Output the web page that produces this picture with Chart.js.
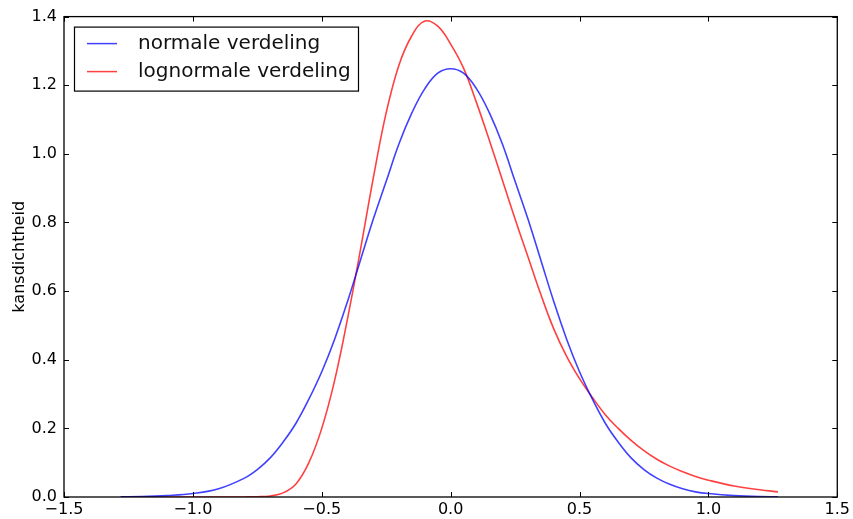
<!DOCTYPE html>
<html>
<head>
<meta charset="utf-8">
<script src="https://cdn.jsdelivr.net/npm/chart.js@4.4.1/dist/chart.umd.min.js"></script>
<style>
    html, body { margin: 0; padding: 0; background: #fff; }
    #wrap { width: 853px; height: 519px; position: relative; }
</style>
</head>
<body>
<div id="wrap"><canvas id="chart"></canvas></div>
<script>
// x positions
const xValues = [
    -1.28, -1.2, -1.1, -1.0, -0.9, -0.8, -0.75, -0.7, -0.65, -0.6, -0.55, -0.5, -0.45, -0.4, -0.35,
    -0.3, -0.25, -0.2, -0.15, -0.1, -0.05, 0, 0.05, 0.1, 0.15, 0.2, 0.25, 0.3, 0.35, 0.4,
    0.45, 0.5, 0.55, 0.6, 0.65, 0.7, 0.75, 0.8, 0.85, 0.9, 0.95, 1.0, 1.1, 1.2, 1.27,
];
// blue curve
const normalValues = [
    0.0004, 0.001, 0.004, 0.010, 0.024, 0.055, 0.08, 0.114, 0.16, 0.215, 0.285, 0.365, 0.46, 0.57, 0.69,
    0.81, 0.92, 1.03, 1.12, 1.19, 1.235, 1.248, 1.235, 1.19, 1.12, 1.03, 0.92, 0.81, 0.69, 0.57,
    0.46, 0.365, 0.285, 0.215, 0.16, 0.114, 0.08, 0.055, 0.037, 0.024, 0.015, 0.010, 0.004, 0.001, 0.0005,
];
// red curve
const lognormalValues = [
    0, 0, 0, 0, 0, 0.0002, 0.0008, 0.003, 0.012, 0.038, 0.10, 0.20, 0.34, 0.52, 0.72,
    0.93, 1.12, 1.26, 1.345, 1.387, 1.372, 1.32, 1.25, 1.15, 1.04, 0.925, 0.81, 0.70, 0.59, 0.49,
    0.41, 0.345, 0.29, 0.24, 0.20, 0.165, 0.135, 0.11, 0.09, 0.074, 0.06, 0.049, 0.032, 0.021, 0.015,
];
const seriesLabels = ['normale verdeling', 'lognormale verdeling'];
const xTicks = [-1.5, -1.0, -0.5, 0.0, 0.5, 1.0, 1.5];
const yTicks = [0.0, 0.2, 0.4, 0.6, 0.8, 1.0, 1.2, 1.4];

const FONT = 'DejaVu Sans';

function toPoints(ys) {
    return xValues.map((x, i) => ({x: x, y: ys[i]}));
}

function fmt(v) {
    return Number(v).toFixed(1).replace('-', '\u2212');
}

// matplotlib-like frame: box, inward ticks on all sides, legend in the corner
const framePlugin = {
    id: 'frame',
    afterDraw(chart) {
        const ctx = chart.ctx;
        const a = chart.chartArea;
        const xs = chart.scales.x;
        const ys = chart.scales.y;
        ctx.save();
        ctx.strokeStyle = '#000';
        ctx.lineWidth = 1;
        xTicks.forEach(v => {
            const px = Math.round(xs.getPixelForValue(v)) + 0.5;
            ctx.beginPath();
            ctx.moveTo(px, a.bottom); ctx.lineTo(px, a.bottom - 5);
            ctx.moveTo(px, a.top); ctx.lineTo(px, a.top + 5);
            ctx.stroke();
        });
        yTicks.forEach(v => {
            const py = Math.round(ys.getPixelForValue(v)) + 0.5;
            ctx.beginPath();
            ctx.moveTo(a.left, py); ctx.lineTo(a.left + 5, py);
            ctx.moveTo(a.right, py); ctx.lineTo(a.right - 5, py);
            ctx.stroke();
        });
        ctx.lineWidth = 1.3;
        ctx.strokeRect(a.left, a.top, a.right - a.left, a.bottom - a.top);

        // legend
        const lx = a.left + 10, ly = a.top + 10;
        ctx.fillStyle = '#fff';
        ctx.fillRect(lx, ly, 284, 64);
        ctx.lineWidth = 1.2;
        ctx.strokeStyle = '#000';
        ctx.strokeRect(lx + 0.5, ly + 0.5, 284, 64);
        ctx.font = '20px "' + FONT + '"';
        ctx.textBaseline = 'middle';
        chart.data.datasets.forEach((ds, i) => {
            const cy = ly + 17 + i * 28;
            ctx.strokeStyle = ds.borderColor;
            ctx.lineWidth = 1.5;
            ctx.beginPath();
            ctx.moveTo(lx + 13, cy); ctx.lineTo(lx + 43, cy);
            ctx.stroke();
            ctx.fillStyle = '#111';
            ctx.fillText(ds.label, lx + 64, cy);
        });
        ctx.restore();
    }
};

const config = {
    type: 'line',
    data: {
        datasets: [
            {
                label: seriesLabels[0],
                data: toPoints(normalValues),
                borderColor: 'rgba(0, 0, 255, 0.75)',
                borderWidth: 1.6,
                pointRadius: 0,
                tension: 0.4,
                fill: false,
            },
            {
                label: seriesLabels[1],
                data: toPoints(lognormalValues),
                borderColor: 'rgba(255, 0, 0, 0.75)',
                borderWidth: 1.6,
                pointRadius: 0,
                tension: 0.4,
                fill: false,
            },
        ]
    },
    options: {
        responsive: true,
        maintainAspectRatio: false,
        animation: false,
        layout: {padding: {top: 16, right: 13, left: 0, bottom: 0}},
        plugins: {
            legend: {display: false},
            tooltip: {enabled: false},
        },
        scales: {
            x: {
                type: 'linear',
                min: -1.5,
                max: 1.5,
                afterBuildTicks: s => { s.ticks = xTicks.map(v => ({value: v})); },
                afterFit: s => { s.height = 22; },
                grid: {display: false, drawTicks: false},
                border: {display: false},
                ticks: {
                    padding: 3,
                    color: '#000',
                    font: {family: FONT, size: 16},
                    maxRotation: 0,
                    autoSkip: false,
                    callback: v => fmt(v),
                },
            },
            y: {
                type: 'linear',
                min: 0,
                max: 1.4,
                afterBuildTicks: s => { s.ticks = yTicks.map(v => ({value: v})); },
                afterFit: s => { s.width = 64; },
                grid: {display: false, drawTicks: false},
                border: {display: false},
                title: {
                    display: true,
                    text: 'kansdichtheid',
                    color: '#000',
                    font: {family: FONT, size: 16},
                    padding: {top: 10, bottom: 0},
                },
                ticks: {
                    padding: 7,
                    color: '#000',
                    font: {family: FONT, size: 16},
                    callback: v => fmt(v),
                },
            },
        },
    },
    plugins: [framePlugin],
};

new Chart(document.getElementById('chart'), config);
</script>
</body>
</html>
